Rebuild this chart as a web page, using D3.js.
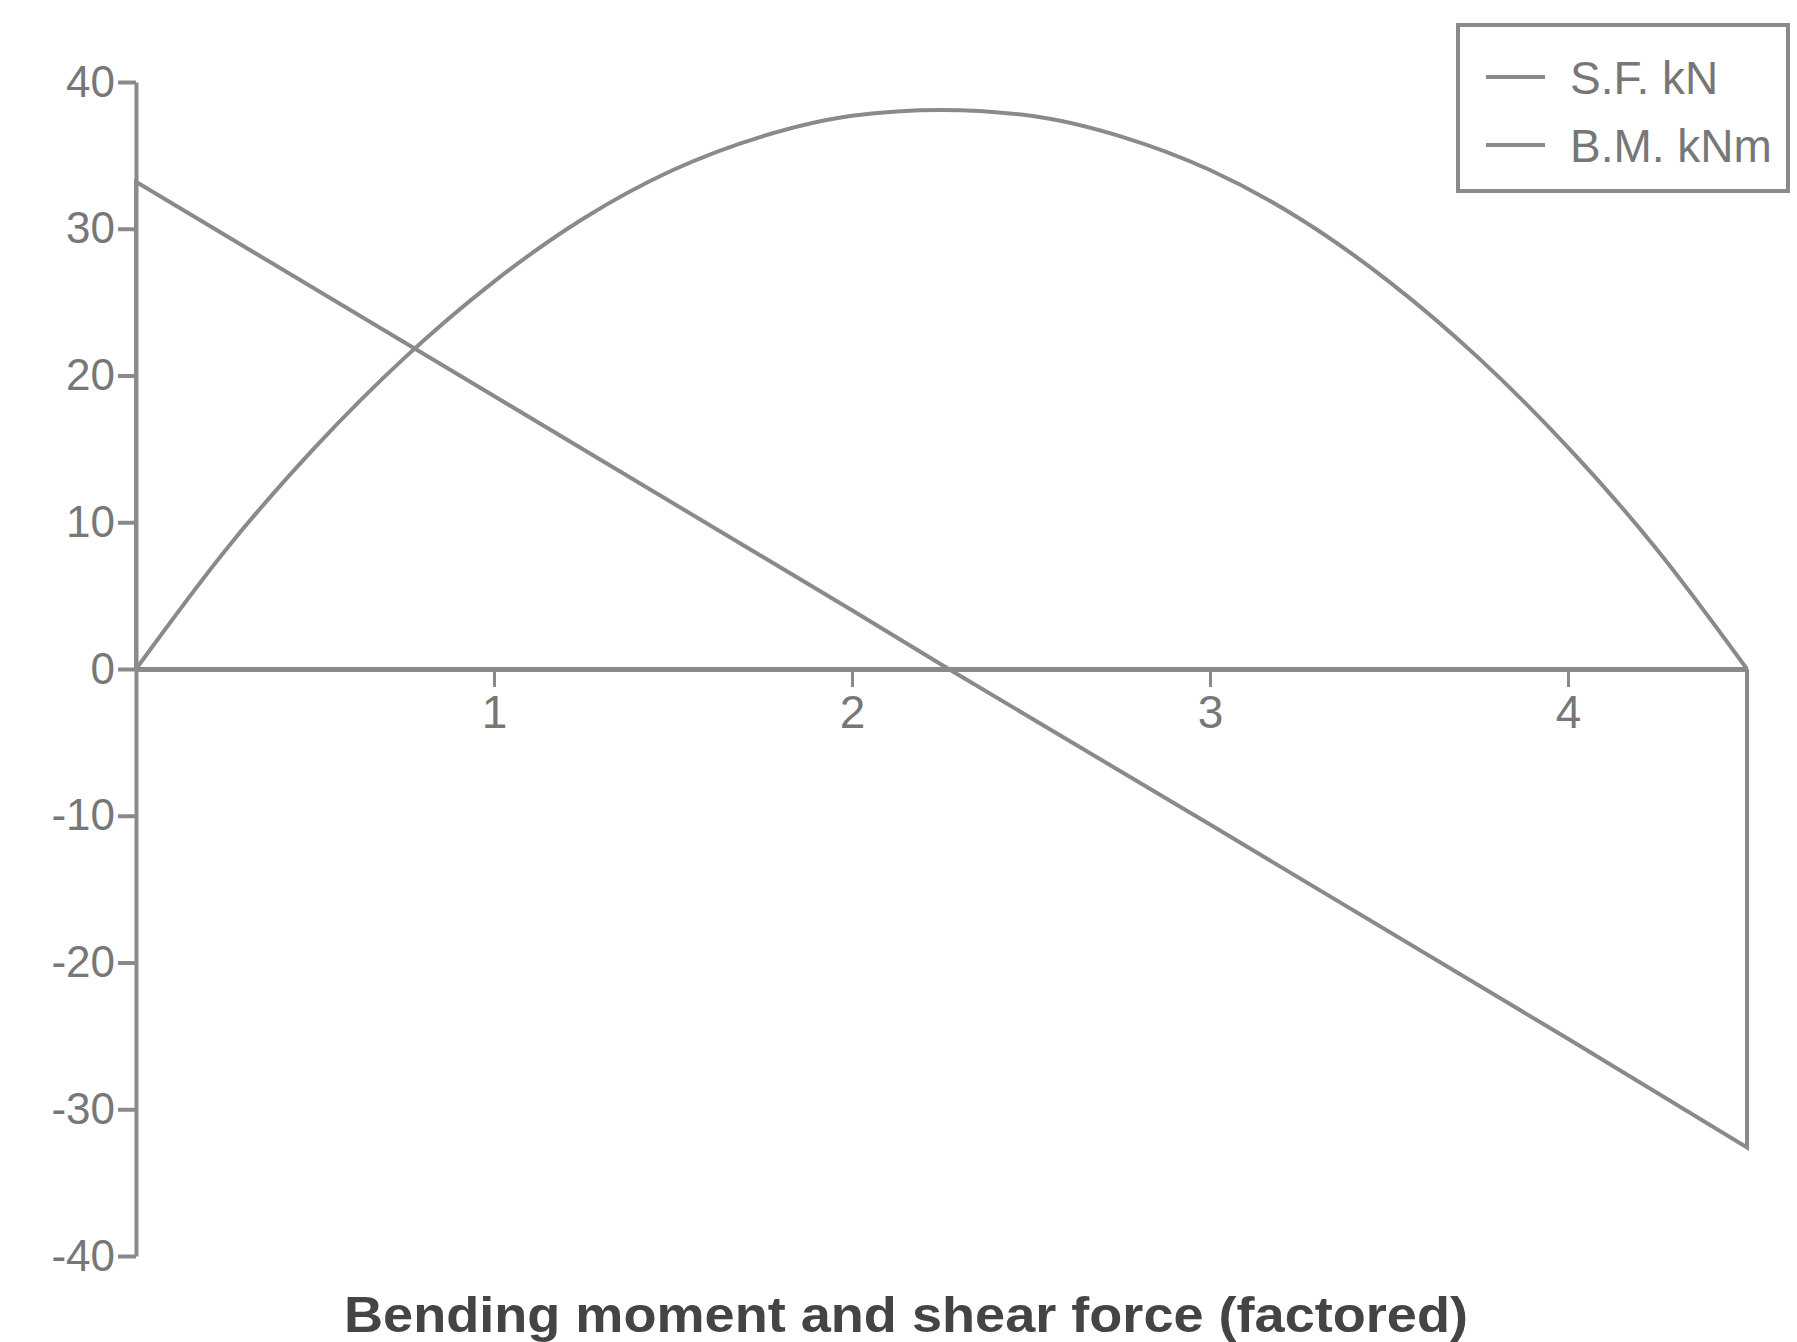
<!DOCTYPE html>
<html>
<head>
<meta charset="utf-8">
<script src="https://cdn.jsdelivr.net/npm/d3@7"></script>
<style>
  body { margin: 0; background: #fff; }
  svg { display: block; }
</style>
</head>
<body>
<div id="chart"></div>
<script>
// positions along the beam (m)
var spanX = [0, 0.25, 0.5, 0.75, 1, 1.25, 1.5, 1.75, 2, 2.25, 2.5, 2.75, 3, 3.25, 3.5, 3.75, 4, 4.25, 4.5];
// bending moment kNm
var bmValues = [0, 8.1, 15.1, 21.2, 26.4, 30.7, 34.0, 36.3, 37.7, 38.1, 37.7, 36.3, 34.0, 30.7, 26.4, 21.2, 15.1, 8.1, 0];
// shear force kN
var sfX = [0, 0, 1, 2, 2.27, 3, 4, 4.5, 4.5];
var sfValues = [0, 33.2, 18.6, 4.0, 0, -10.6, -25.2, -32.6, 0];
var yTicks = [40, 30, 20, 10, 0, -10, -20, -30, -40];
var xTicks = [1, 2, 3, 4];
var legendLabels = ["S.F. kN", "B.M. kNm"];

var width = 1797, height = 1342;
var grey = "#8a8a8a";
var textGrey = "#777";

var svg = d3.select("#chart")
    .append("svg")
    .attr("width", width)
    .attr("height", height);

var x = d3.scaleLinear().domain([0, 4.5]).range([136, 1747]);
var y = d3.scaleLinear().domain([-40, 40]).range([1256, 82]);

// y axis
var yAxis = d3.axisLeft(y)
    .tickValues(yTicks)
    .tickFormat(function(d) { return String(d); })
    .tickSize(18)
    .tickPadding(3)
    .tickSizeOuter(0);

var gy = svg.append("g")
    .attr("transform", "translate(" + x(0) + ",0)")
    .call(yAxis);
gy.selectAll("path, line")
    .attr("stroke", grey)
    .attr("stroke-width", 4);
gy.selectAll("text")
    .attr("fill", textGrey)
    .attr("font-family", "Liberation Sans, Arial, sans-serif")
    .attr("font-size", 44);

// x axis along zero line
var xAxis = d3.axisBottom(x)
    .tickValues(xTicks)
    .tickFormat(d3.format("d"))
    .tickSize(18)
    .tickPadding(8)
    .tickSizeOuter(0);

var gx = svg.append("g")
    .attr("transform", "translate(0," + y(0) + ")")
    .call(xAxis);
gx.select(".domain")
    .attr("stroke", grey)
    .attr("stroke-width", 5);
gx.selectAll("line")
    .attr("stroke", grey)
    .attr("stroke-width", 3);
gx.selectAll("text")
    .attr("fill", textGrey)
    .attr("font-family", "Liberation Sans, Arial, sans-serif")
    .attr("font-size", 46);

var bmLine = d3.line()
    .x(function(d, i) { return x(spanX[i]); })
    .y(function(d) { return y(d); })
    .curve(d3.curveMonotoneX);

var sfLine = d3.line()
    .x(function(d, i) { return x(sfX[i]); })
    .y(function(d) { return y(d); });

svg.append("path")
    .attr("d", sfLine(sfValues))
    .attr("fill", "none")
    .attr("stroke", grey)
    .attr("stroke-width", 4);

svg.append("path")
    .attr("d", bmLine(bmValues))
    .attr("fill", "none")
    .attr("stroke", grey)
    .attr("stroke-width", 4);

// legend
var legend = svg.append("g")
    .attr("transform", "translate(1458,25)");

legend.append("rect")
    .attr("width", 330)
    .attr("height", 166)
    .attr("fill", "#fff")
    .attr("stroke", grey)
    .attr("stroke-width", 4);

var items = legend.selectAll(".item")
    .data(legendLabels)
    .enter()
    .append("g")
    .attr("class", "item")
    .attr("transform", function(d, i) {
        return "translate(0," + (52 + i * 68) + ")";
    });

items.append("line")
    .attr("x1", 28)
    .attr("x2", 87)
    .attr("stroke", grey)
    .attr("stroke-width", 4);

items.append("text")
    .attr("x", 112)
    .attr("dy", "0.36em")
    .attr("fill", textGrey)
    .attr("font-family", "Liberation Sans, Arial, sans-serif")
    .attr("font-size", 46)
    .text(function(d) { return d; });

// title
svg.append("text")
    .attr("x", 906)
    .attr("y", 1332)
    .attr("text-anchor", "middle")
    .attr("font-family", "Liberation Sans, Arial, sans-serif")
    .attr("font-weight", "bold")
    .attr("font-size", 50)
    .attr("fill", "#444")
    .attr("textLength", 1124)
    .attr("lengthAdjust", "spacingAndGlyphs")
    .text("Bending moment and shear force (factored)");
</script>
</body>
</html>
